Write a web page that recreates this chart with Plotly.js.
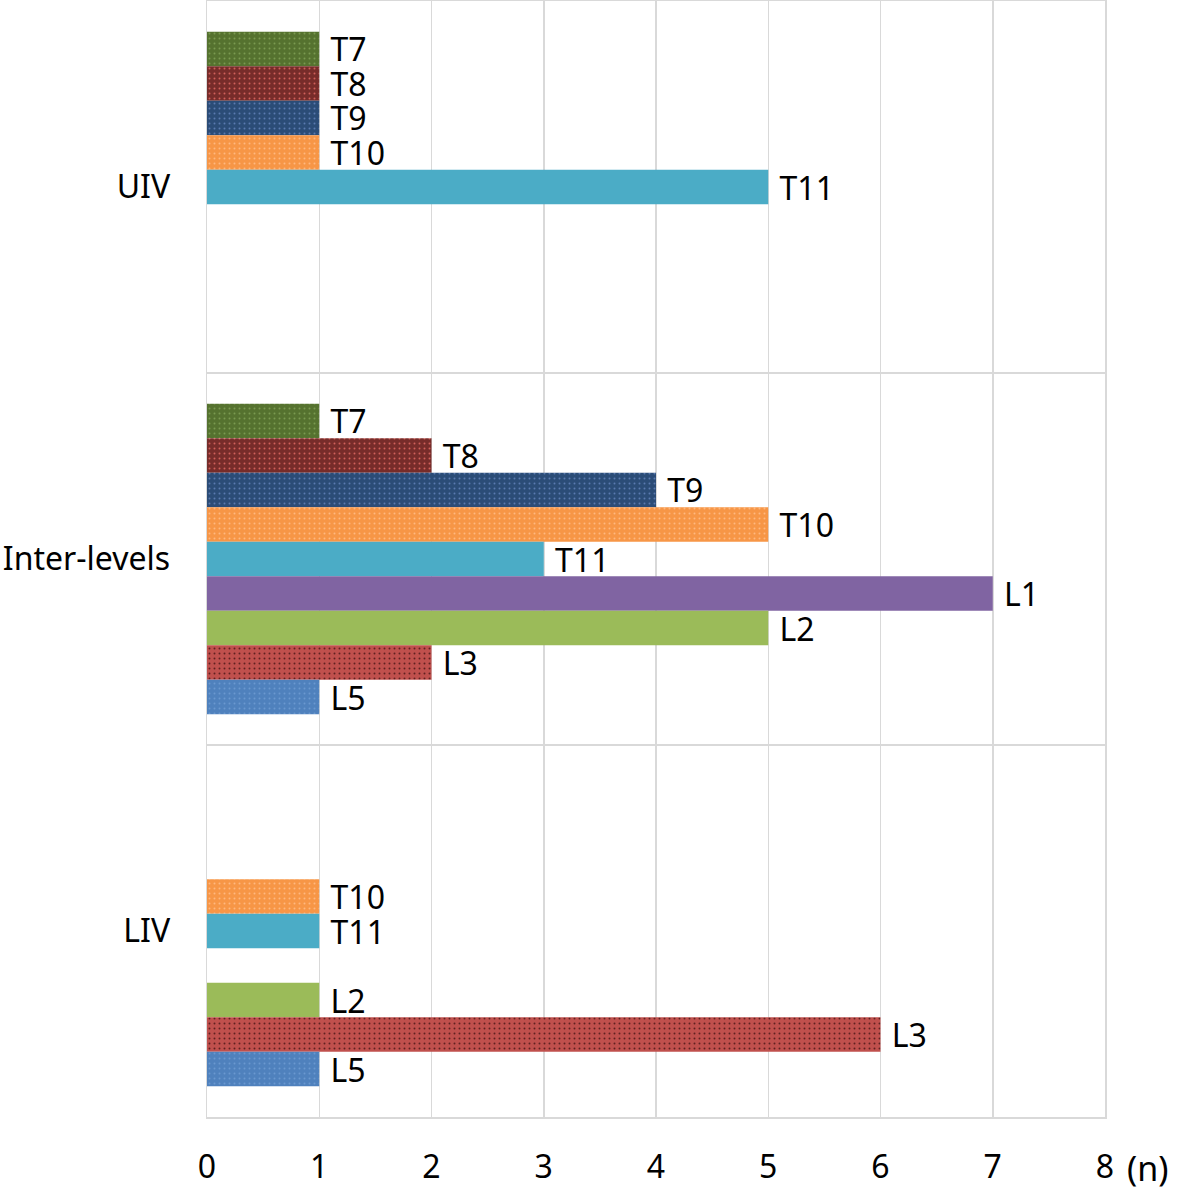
<!DOCTYPE html>
<html>
<head>
<meta charset="utf-8">
<script src="https://cdn.plot.ly/plotly-3.0.1.min.js"></script>
<style>html,body{margin:0;padding:0;background:#fff;}#chart{width:1181px;height:1191px;}</style>
</head>
<body>
<div id="chart"></div>
<script>
const categories = ['UIV', 'Inter-levels', 'LIV'];
const seriesNames = ['T7', 'T8', 'T9', 'T10', 'T11', 'L1', 'L2', 'L3', 'L5'];
// values per series across categories [UIV, Inter-levels, LIV]; null = no bar
const T7 = [1, 1, null];
const T8 = [1, 2, null];
const T9 = [1, 4, null];
const T10 = [1, 5, 1];
const T11 = [5, 3, 1];
const L1 = [null, 7, null];
const L2 = [null, 5, 1];
const L3 = [null, 2, 6];
const L5 = [null, 1, 1];
const xTicks = [0, 1, 2, 3, 4, 5, 6, 7, 8];

const seriesValues = [T7, T8, T9, T10, T11, L1, L2, L3, L5];
const colors = ['#55722f', '#772c2a', '#2b4c77', '#f79646', '#4bacc6', '#8064a2', '#9bbb59', '#c0504d', '#4f81bd'];
const dotColors = ['#7a9a50', '#d0605a', '#5a7ab0', '#ffb880', null, null, null, '#602020', '#6a98d0'];

const traces = seriesNames.map((name, i) => {
  const m = {color: colors[i], line: {width: 0}};
  if (dotColors[i]) {
    m.pattern = {shape: '.', fgcolor: dotColors[i], bgcolor: colors[i], size: 5, solidity: 0.12, fillmode: 'replace'};
  }
  return {
    type: 'bar',
    orientation: 'h',
    name: name,
    y: categories,
    x: seriesValues[i],
    marker: m,
    text: seriesValues[i].map(v => v == null ? '' : '\u00a0' + name),
    texttemplate: '%{text}',
    textposition: 'outside',
    constraintext: 'none',
    cliponaxis: false,
    textfont: {family: 'Noto Sans, Open Sans, sans-serif', size: 32, color: '#000'},
    hoverinfo: 'x+name'
  };
});

const layout = {
  width: 1181,
  height: 1191,
  margin: {l: 207, r: 76, t: 1, b: 74},
  paper_bgcolor: '#fff',
  plot_bgcolor: '#fff',
  barmode: 'group',
  bargap: 0.165,
  bargroupgap: 0,
  showlegend: false,
  font: {family: 'Noto Sans, Open Sans, sans-serif', size: 32, color: '#000'},
  xaxis: {
    range: [0, 8],
    tickvals: xTicks,
    ticktext: xTicks.map(String),
    showgrid: true,
    gridcolor: '#d9d9d9',
    gridwidth: 1.5,
    zeroline: false,
    showline: true,
    linecolor: '#d9d9d9',
    linewidth: 1.5,
    mirror: true,
    ticks: '',
    ticklabelstandoff: 21,
    tickfont: {size: 32}
  },
  yaxis: {
    type: 'category',
    categoryorder: 'array',
    categoryarray: categories,
    autorange: 'reversed',
    tickson: 'boundaries',
    showgrid: true,
    gridcolor: '#d9d9d9',
    gridwidth: 1.5,
    zeroline: false,
    showline: true,
    linecolor: '#d9d9d9',
    linewidth: 1.5,
    mirror: true,
    ticks: '',
    ticklabelstandoff: 29,
    tickfont: {size: 32}
  },
  annotations: [{
    xref: 'paper', yref: 'paper',
    x: 1, y: 0,
    xanchor: 'left', yanchor: 'top',
    xshift: 20, yshift: -26,
    text: '(n)',
    showarrow: false,
    font: {size: 34, color: '#000'}
  }]
};

Plotly.newPlot('chart', traces, layout, {displayModeBar: false, staticPlot: true});
</script>
</body>
</html>
